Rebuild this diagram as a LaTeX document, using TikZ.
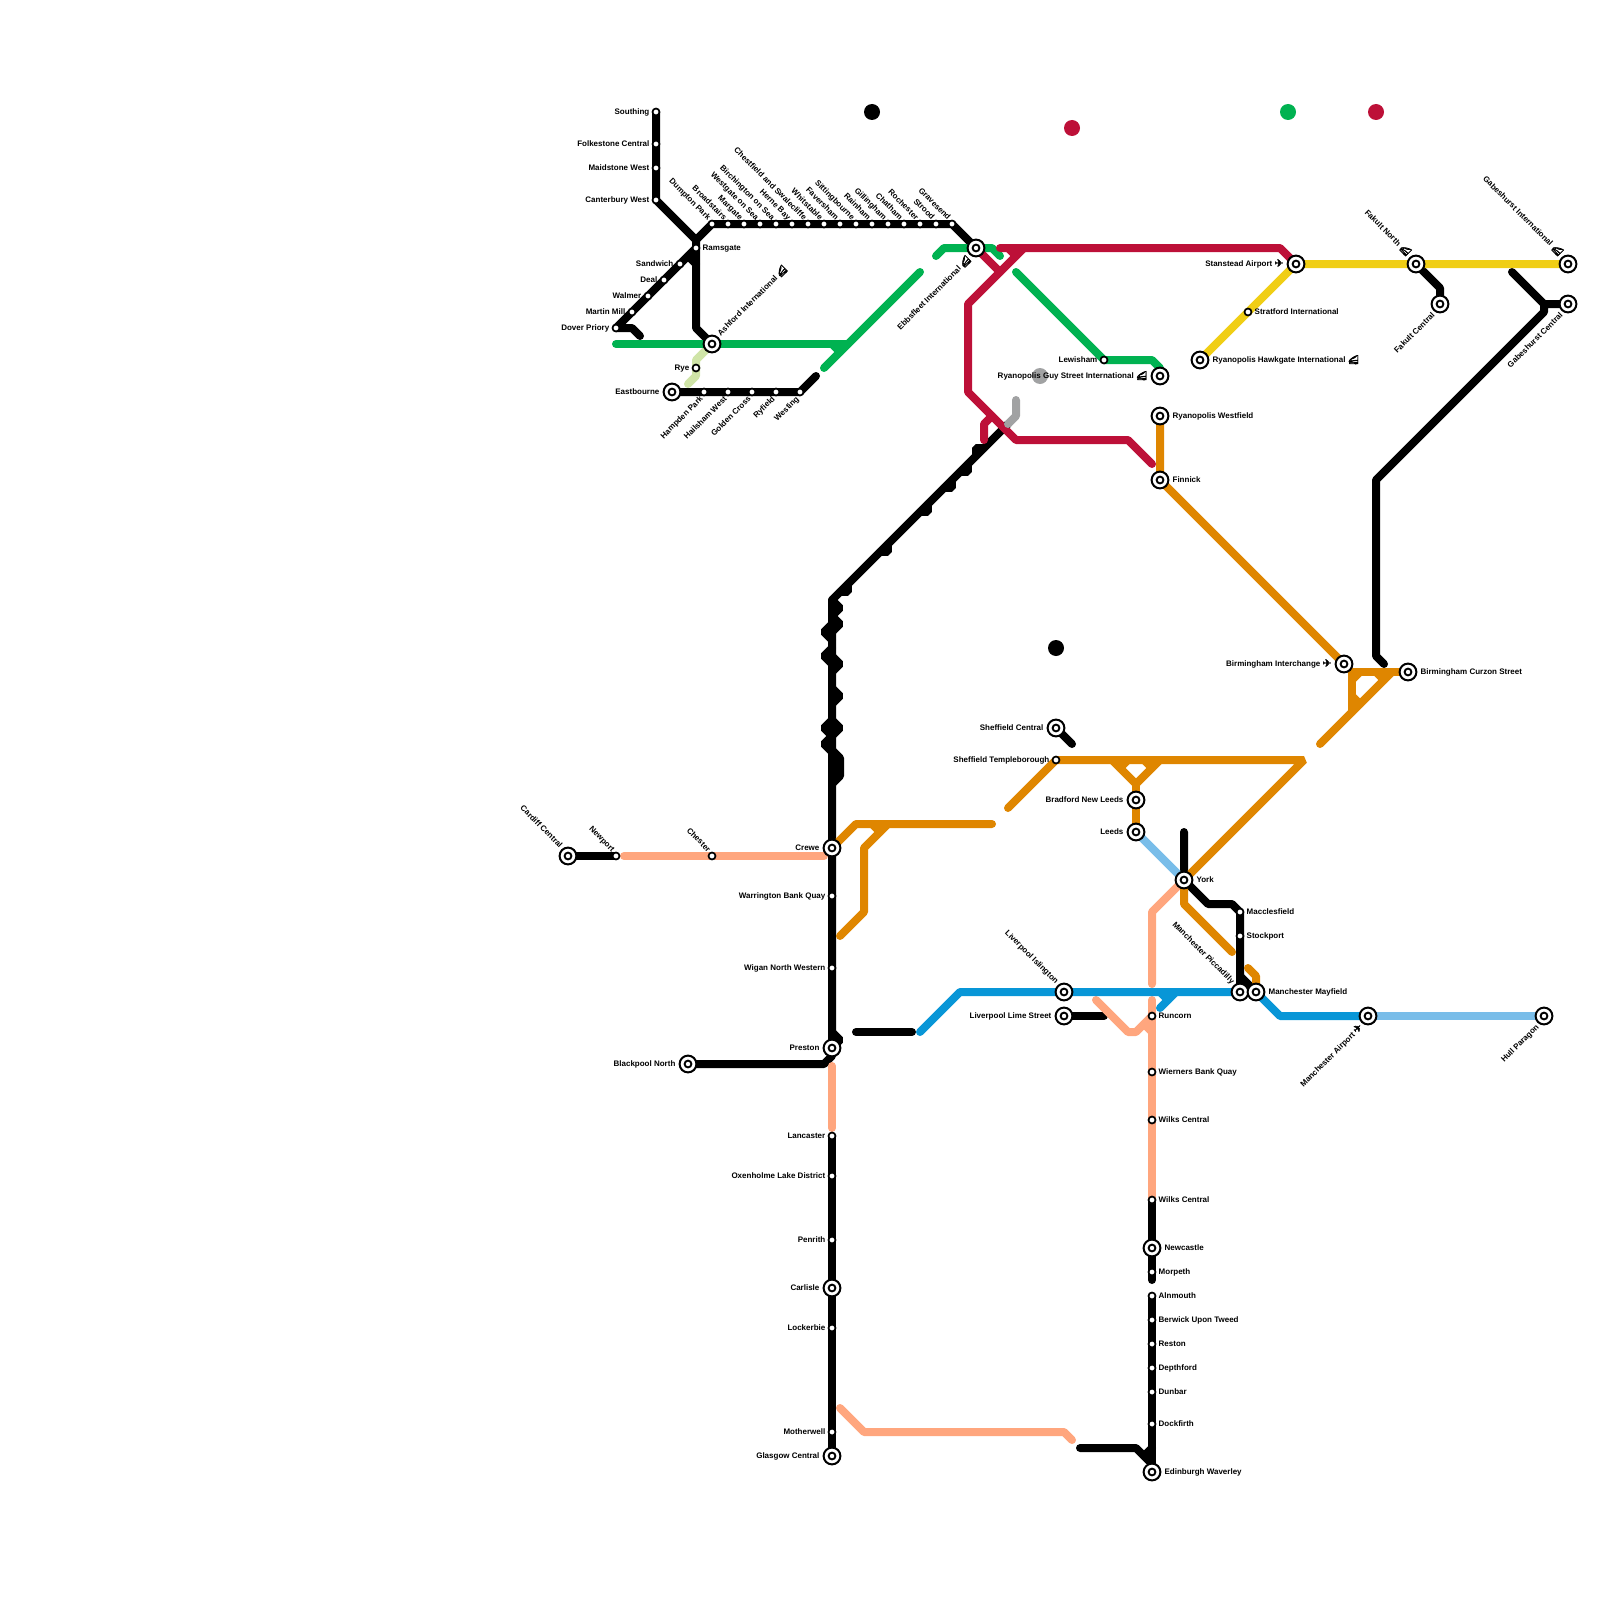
\documentclass[tikz,border=0pt]{standalone}
\usepackage{fontspec}
\setmainfont{Liberation Sans}
\newfontfamily\iconfont[AutoFakeBold=4]{Noto Emoji}
\newfontfamily\symfont[BoldFont={DejaVu Sans},BoldFeatures={FakeBold=2.5}]{DejaVu Sans}
\usetikzlibrary{backgrounds}
\definecolor{Ink}{HTML}{000000}
\definecolor{Crimson}{HTML}{BD1038}
\definecolor{Amber}{HTML}{DF8600}
\definecolor{Lemon}{HTML}{F0CE15}
\definecolor{Emerald}{HTML}{00B251}
\definecolor{Azure}{HTML}{0896D7}
\definecolor{Sky}{HTML}{79BDE9}
\definecolor{Salmon}{HTML}{FFA67E}
\definecolor{Pear}{HTML}{CFE4A7}
\definecolor{Ash}{HTML}{A1A2A3}
\newcommand{\railicon}{{\iconfont\fontsize{9}{9}\selectfont\symbol{"1F684}}}
\newcommand{\planeicon}{{\symfont\fontsize{10.5}{10}\selectfont\symbol{"2708}}}
\tikzset{
  stop/.style={
    circle, draw=Ink, fill=white, line width=1.7pt,
    minimum size=7pt, inner sep=0pt, outer sep=0pt
  },
  hub/.style={
    circle, draw=Ink, fill=white, line width=2pt,
    minimum size=16.8pt, inner sep=0pt, outer sep=1pt,
    path picture={\draw[Ink,line width=1.9pt] (path picture bounding box.center) circle (3.4);}
  },
  blob/.style={circle, minimum size=16pt, inner sep=0pt},
  lab/.style={
    inner sep=0pt, text height=5.6pt, text depth=0pt, text=Ink,
    font=\bfseries\fontsize{8}{8}\selectfont
  },
  lw/.style={label={[lab,label distance=3pt,anchor=east]180:#1}},
  le/.style={label={[lab,label distance=3pt,anchor=west]0:#1}},
  lnw/.style={label={[lab,label distance=3pt,anchor=east,rotate=-45]135:#1}},
  lsw/.style={label={[lab,label distance=3pt,anchor=east,rotate=45]225:#1}},
  lne/.style={label={[lab,label distance=3pt,anchor=west,rotate=45]45:#1}},
  route/.style={line width=8pt, line cap=round, line join=bevel}
}
\begin{document}
\begin{tikzpicture}[x=1pt,y=-1pt]
  \useasboundingbox (0,0) rectangle (1600,1600);
  \node[blob,fill=Ink] (dotink) at (872,112) {};
  \node[blob,fill=Crimson] (dotcrimson) at (1072,128) {};
  \node[blob,fill=Emerald] (dotemerald) at (1288,112) {};
  \node[blob,fill=Crimson] (dotcrimsontwo) at (1376,112) {};
  \node[blob,fill=Ink] (dotinktwo) at (1056,648) {};
  \node[blob,fill=Ash] (dotash) at (1040,376) {};

  \node[stop,lw=Southing] (southing) at (656,112) {};
  \node[stop,lw=Folkestone Central] (folkestone) at (656,144) {};
  \node[stop,lw=Maidstone West] (maidstone) at (656,168) {};
  \node[stop,lw=Canterbury West] (canterbury) at (656,200) {};
  \node[stop,lnw=Dumpton Park] (dumpton) at (712,224) {};
  \node[stop,lnw=Broadstairs] (broadstairs) at (728,224) {};
  \node[stop,lnw=Margate] (margate) at (744,224) {};
  \node[stop,lnw=Westgate on Sea] (westgate) at (760,224) {};
  \node[stop,lnw=Birchington on Sea] (birchington) at (776,224) {};
  \node[stop,lnw=Herne Bay] (herne) at (792,224) {};
  \node[stop,lnw=Chestfield and Swalecliffe] (chestfield) at (808,224) {};
  \node[stop,lnw=Whitstable] (whitstable) at (824,224) {};
  \node[stop,lnw=Faversham] (faversham) at (840,224) {};
  \node[stop,lnw=Sittingbourne] (sittingbourne) at (856,224) {};
  \node[stop,lnw=Rainham] (rainham) at (872,224) {};
  \node[stop,lnw=Gillingham] (gillingham) at (888,224) {};
  \node[stop,lnw=Chatham] (chatham) at (904,224) {};
  \node[stop,lnw=Rochester] (rochester) at (920,224) {};
  \node[stop,lnw=Strood] (strood) at (936,224) {};
  \node[stop,lnw=Gravesend] (gravesend) at (952,224) {};
  \node[stop,le=Ramsgate] (ramsgate) at (696,248) {};
  \node[stop,lw=Sandwich] (sandwich) at (680,264) {};
  \node[stop,lw=Deal] (deal) at (664,280) {};
  \node[stop,lw=Walmer] (walmer) at (648,296) {};
  \node[stop,lw=Martin Mill] (martin) at (632,312) {};
  \node[stop,lw=Dover Priory] (dover) at (616,328) {};
  \node[hub,lne=Ashford International \railicon] (ashford) at (712,344) {};
  \node[stop,lw=Rye] (rye) at (696,368) {};
  \node[hub,lw=Eastbourne] (eastbourne) at (672,392) {};
  \node[stop,lsw=Hampden Park] (hampden) at (704,392) {};
  \node[stop,lsw=Hailsham West] (hailsham) at (728,392) {};
  \node[stop,lsw=Golden Cross] (golden) at (752,392) {};
  \node[stop,lsw=Ryfield] (ryfield) at (776,392) {};
  \node[stop,lsw=Westing] (westing) at (800,392) {};
  \node[hub,lsw=Ebbsfleet International \railicon] (ebbsfleet) at (976,248) {};
  \node[stop,lw=Lewisham] (lewisham) at (1104,360) {};
  \node[hub,lw=Ryanopolis Guy Street International \railicon] (guystreet) at (1160,376) {};
  \node[hub,le=Ryanopolis Westfield] (westfield) at (1160,416) {};
  \node[hub,le=Finnick] (finnick) at (1160,480) {};
  \node[hub,lw=Stanstead Airport \planeicon] (stanstead) at (1296,264) {};
  \node[stop,le=Stratford International] (stratford) at (1248,312) {};
  \node[hub,le=Ryanopolis Hawkgate International \railicon] (hawkgate) at (1200,360) {};
  \node[hub,lnw=Fakult North \railicon] (fakultn) at (1416,264) {};
  \node[hub,lsw=Fakult Central] (fakultc) at (1440,304) {};
  \node[hub,lnw=Gabeshurst International \railicon] (gabeshursti) at (1568,264) {};
  \node[hub,lsw=Gabeshurst Central] (gabeshurstc) at (1568,304) {};
  \node[hub,lw=Birmingham Interchange \planeicon] (bhamint) at (1344,664) {};
  \node[hub,le=Birmingham Curzon Street] (bhamcurzon) at (1408,672) {};
  \node[hub,lw=Sheffield Central] (sheffc) at (1056,728) {};
  \node[stop,lw=Sheffield Templeborough] (sheffl) at (1056,760) {};
  \node[hub,lw=Bradford New Leeds] (bradford) at (1136,800) {};
  \node[hub,lw=Leeds] (leeds) at (1136,832) {};
  \node[hub,le=York] (york) at (1184,880) {};
  \node[stop,le=Macclesfield] (macclesfield) at (1240,912) {};
  \node[stop,le=Stockport] (stockport) at (1240,936) {};
  \node[hub,lnw=Manchester Piccadilly] (piccadilly) at (1240,992) {};
  \node[hub,le=Manchester Mayfield] (mayfield) at (1256,992) {};
  \node[hub,lsw=Manchester Airport \planeicon] (mcrairport) at (1368,1016) {};
  \node[hub,lsw=Hull Paragon] (hull) at (1544,1016) {};
  \node[hub,lnw=Liverpool Islington] (islington) at (1064,992) {};
  \node[hub,lw=Liverpool Lime Street] (limest) at (1064,1016) {};
  \node[stop,le=Runcorn] (runcorn) at (1152,1016) {};
  \node[stop,le=Wierners Bank Quay] (wierners) at (1152,1072) {};
  \node[stop,le=Wilks Central] (wilksa) at (1152,1120) {};
  \node[stop,le=Wilks Central] (wilksb) at (1152,1200) {};
  \node[hub,le=Newcastle] (newcastle) at (1152,1248) {};
  \node[stop,le=Morpeth] (morpeth) at (1152,1272) {};
  \node[stop,le=Alnmouth] (alnmouth) at (1152,1296) {};
  \node[stop,le=Berwick Upon Tweed] (berwick) at (1152,1320) {};
  \node[stop,le=Reston] (reston) at (1152,1344) {};
  \node[stop,le=Depthford] (depthford) at (1152,1368) {};
  \node[stop,le=Dunbar] (dunbar) at (1152,1392) {};
  \node[stop,le=Dockfirth] (dockfirth) at (1152,1424) {};
  \node[hub,le=Edinburgh Waverley] (edinburgh) at (1152,1472) {};
  \node[hub,lnw=Cardiff Central] (cardiff) at (568,856) {};
  \node[stop,lnw=Newport] (newport) at (616,856) {};
  \node[stop,lnw=Chester] (chester) at (712,856) {};
  \node[hub,lw=Crewe] (crewe) at (832,848) {};
  \node[stop,lw=Warrington Bank Quay] (warrington) at (832,896) {};
  \node[stop,lw=Wigan North Western] (wigan) at (832,968) {};
  \node[hub,lw=Preston] (preston) at (832,1048) {};
  \node[hub,lw=Blackpool North] (blackpool) at (688,1064) {};
  \node[stop,lw=Lancaster] (lancaster) at (832,1136) {};
  \node[stop,lw=Oxenholme Lake District] (oxenholme) at (832,1176) {};
  \node[stop,lw=Penrith] (penrith) at (832,1240) {};
  \node[hub,lw=Carlisle] (carlisle) at (832,1288) {};
  \node[stop,lw=Lockerbie] (lockerbie) at (832,1328) {};
  \node[stop,lw=Motherwell] (motherwell) at (832,1432) {};
  \node[hub,lw=Glasgow Central] (glasgow) at (832,1456) {};

  \begin{scope}[on background layer]
    \draw[route,draw=Ink] (southing.center) -- (canterbury.center) -- (696,240) -- (dumpton.center) -- (gravesend.center) -- (ebbsfleet.center);
    \draw[route,draw=Ink] (dover.center) -- (ramsgate.center) -- (696,240);
    \draw[route,draw=Ink] (ramsgate.center) -- (696,328) -- (ashford.center);
    \draw[route,draw=Ink] (dover.center) -- (632,328) -- (640,336);
    \draw[route,draw=Ink] (688,256) -- (696,264);
    \draw[route,draw=Ink] (eastbourne.center) -- (westing.center) -- (816,376);
    \draw[route,draw=Ink] (1008,424) -- (832,600) -- (crewe.center) -- (preston.center) -- (832,1056) -- (824,1064) -- (blackpool.center);
    \draw[route,draw=Ink] (984,448) -- (976,448) -- (976,456);
    \draw[route,draw=Ink] (968,464) -- (968,472) -- (960,472);
    \draw[route,draw=Ink] (952,480) -- (952,488) -- (944,488);
    \draw[route,draw=Ink] (928,504) -- (928,512) -- (920,512);
    \draw[route,draw=Ink] (888,544) -- (888,552) -- (880,552);
    \draw[route,draw=Ink] (848,584) -- (848,592) -- (840,592);
    \draw[route,draw=Ink] (832,600) -- (840,608) -- (832,616);
    \draw[route,draw=Ink] (832,616) -- (840,624) -- (832,632);
    \draw[route,draw=Ink] (832,624) -- (824,632) -- (832,640);
    \draw[route,draw=Ink] (832,648) -- (824,656) -- (832,664);
    \draw[route,draw=Ink] (832,656) -- (840,664) -- (832,672);
    \draw[route,draw=Ink] (832,688) -- (840,696) -- (832,704);
    \draw[route,draw=Ink] (832,720) -- (840,728) -- (832,736);
    \draw[route,draw=Ink] (832,720) -- (824,728) -- (832,736);
    \draw[route,draw=Ink] (832,736) -- (824,744) -- (832,752);
    \draw[route,draw=Ink] (832,750) -- (840,758) -- (840,776) -- (832,784);
    \draw[route,draw=Ink] (832,1032) -- (840,1040) -- (832,1048);
    \draw[route,draw=Ink] (856,1032) -- (912,1032);
    \draw[route,draw=Ink] (lancaster.center) -- (glasgow.center);
    \draw[route,draw=Ink] (cardiff.center) -- (newport.center);
    \draw[route,draw=Ink] (sheffc.center) -- (1072,744);
    \draw[route,draw=Ink] (limest.center) -- (1104,1016);
    \draw[route,draw=Ink] (1184,832) -- (york.center) -- (1208,904) -- (1232,904) -- (macclesfield.center) -- (piccadilly.center);
    \draw[route,draw=Ink] (1240,976) -- (mayfield.center);
    \draw[route,draw=Ink] (1384,664) -- (1376,656) -- (1376,480) -- (1544,312) -- (1544,304) -- (gabeshurstc.center);
    \draw[route,draw=Ink] (1512,272) -- (1544,304);
    \draw[route,draw=Ink] (fakultn.center) -- (1440,288) -- (fakultc.center);
    \draw[route,draw=Ink] (wilksb.center) -- (newcastle.center) -- (1152,1280);
    \draw[route,draw=Ink] (alnmouth.center) -- (edinburgh.center);
    \draw[route,draw=Ink] (1080,1448) -- (1136,1448) -- (1152,1464) -- (edinburgh.center);
    \draw[route,draw=Ink] (1152,1448) -- (1144,1456);

    \draw[route,draw=Pear] (ashford.center) -- (696,360) -- (696,376) -- (688,384);
    \draw[route,draw=Emerald] (616,344) -- (848,344);
    \draw[route,draw=Emerald] (832,344) -- (840,352);
    \draw[route,draw=Emerald] (824,368) -- (920,272);
    \draw[route,draw=Emerald] (936,256) -- (944,248) -- (992,248) -- (1000,256);
    \draw[route,draw=Emerald] (1016,272) -- (lewisham.center) -- (1152,360) -- (1160,368) -- (guystreet.center);

    \draw[route,draw=Salmon] (york.center) -- (1152,912) -- (1152,984);
    \draw[route,draw=Salmon] (1152,1000) -- (wilksb.center);
    \draw[route,draw=Salmon] (1096,1000) -- (1128,1032) -- (1136,1032) -- (runcorn.center);
    \draw[route,draw=Salmon] (1144,1024) -- (1152,1032);
    \draw[route,draw=Salmon] (624,856) -- (824,856);
    \draw[route,draw=Salmon] (832,1066) -- (832,1128);
    \draw[route,draw=Salmon] (840,1408) -- (864,1432) -- (1064,1432) -- (1072,1440);

    \draw[route,draw=Amber] (westfield.center) -- (finnick.center) -- (bhamint.center);
    \draw[route,draw=Amber] (1320,744) -- (1392,672);
    \draw[route,draw=Amber] (1352,712) -- (1352,672) -- (bhamcurzon.center);
    \draw[route,draw=Amber] (1352,680) -- (1360,672);
    \draw[route,draw=Amber] (1352,696) -- (1360,704);
    \draw[route,draw=Amber] (1376,672) -- (1384,680);
    \draw[route,draw=Amber] (1008,808) -- (sheffl.center) -- (1304,760) -- (york.center);
    \draw[route,draw=Amber] (1112,760) -- (1136,784) -- (1160,760);
    \draw[route,draw=Amber] (1136,784) -- (leeds.center);
    \draw[route,draw=Amber] (1120,768) -- (1128,760);
    \draw[route,draw=Amber] (1152,768) -- (1144,760);
    \draw[route,draw=Amber] (york.center) -- (1184,904) -- (1232,952);
    \draw[route,draw=Amber] (1248,968) -- (1256,976) -- (mayfield.center);
    \draw[route,draw=Amber] (crewe.center) -- (856,824) -- (992,824);
    \draw[route,draw=Amber] (840,936) -- (864,912) -- (864,848) -- (888,824);
    \draw[route,draw=Amber] (872,824) -- (880,832);

    \draw[route,draw=Azure] (920,1032) -- (960,992) -- (piccadilly.center) -- (mayfield.center) -- (1280,1016) -- (mcrairport.center);
    \draw[route,draw=Azure] (1160,1008) -- (1176,992);
    \draw[route,draw=Azure] (1160,992) -- (1168,1000);
    \draw[route,draw=Sky] (mcrairport.center) -- (hull.center);
    \draw[route,draw=Sky] (leeds.center) -- (york.center);

    \draw[route,draw=Crimson] (1000,248) -- (1280,248) -- (stanstead.center);
    \draw[route,draw=Crimson] (1024,248) -- (968,304) -- (968,392) -- (1016,440) -- (1128,440) -- (1152,464);
    \draw[route,draw=Crimson] (1008,248) -- (1016,256);
    \draw[route,draw=Crimson] (ebbsfleet.center) -- (1000,272);
    \draw[route,draw=Crimson] (984,440) -- (984,424) -- (992,416);

    \draw[route,draw=Lemon] (hawkgate.center) -- (stratford.center) -- (stanstead.center) -- (fakultn.center) -- (gabeshursti.center);
    \draw[route,draw=Ash] (1016,400) -- (1016,416) -- (1008,424);
  \end{scope}
\end{tikzpicture}
\end{document}
